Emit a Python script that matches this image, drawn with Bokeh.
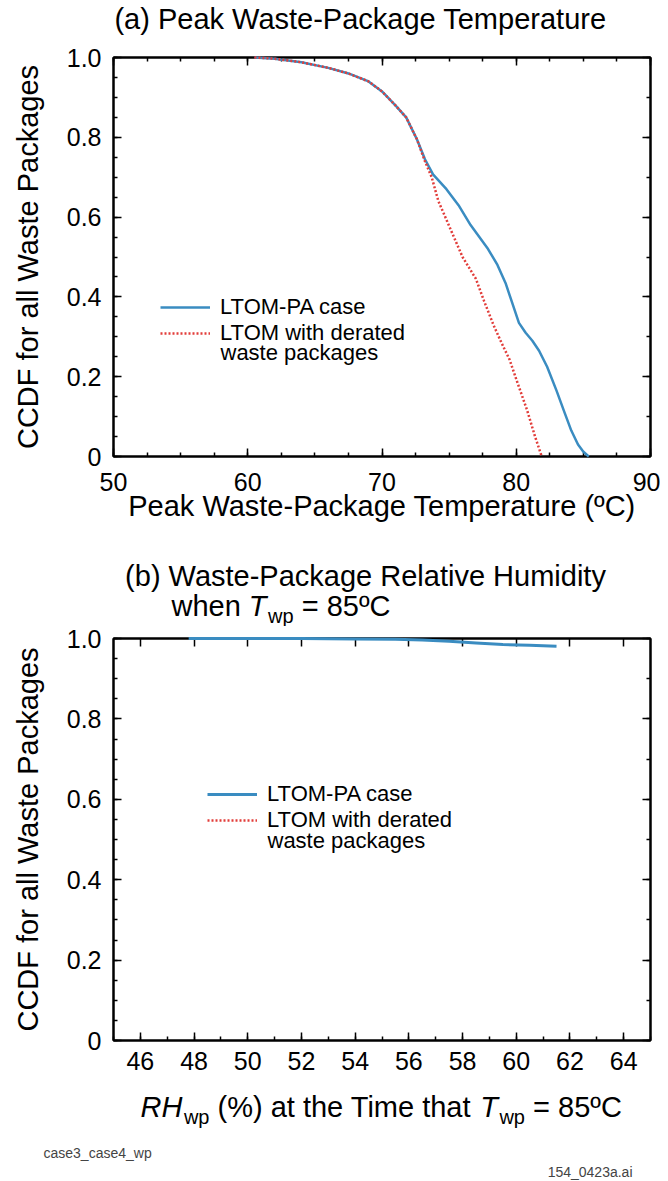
from bokeh.plotting import figure
from bokeh.models import (Range1d, LinearAxis, FixedTicker, Label, Legend, LegendItem,
                          PrintfTickFormatter, CustomLabelingPolicy)
from bokeh.layouts import column
from bokeh.embed import file_html
from bokeh.resources import INLINE

# ---------------- data ----------------
# (a) Peak waste-package temperature CCDF
temp_ltom_pa = [60.5, 62.0, 64.0, 66.0, 67.5, 69.0, 70.0, 71.0, 71.8, 72.6, 73.2, 73.8,
                74.8, 75.7, 76.6, 77.9, 78.6, 79.2, 79.7, 80.2, 80.7, 81.2, 81.7, 82.3,
                83.0, 83.6, 84.1, 84.6, 85.0, 85.4]
ccdf_ltom_pa = [1.0, 0.997, 0.988, 0.974, 0.960, 0.940, 0.915, 0.880, 0.850, 0.795, 0.745, 0.707,
                0.670, 0.630, 0.580, 0.520, 0.480, 0.435, 0.385, 0.335, 0.310, 0.290, 0.265, 0.225,
                0.165, 0.110, 0.065, 0.030, 0.012, 0.0]
temp_derated = [60.5, 62.0, 64.0, 66.0, 67.5, 69.0, 70.0, 71.0, 71.8, 72.6, 73.2, 73.7,
                74.2, 75.1, 76.0, 77.0, 77.6, 78.3, 78.9, 79.5, 80.1, 80.8, 81.4, 81.9]
ccdf_derated = [1.0, 0.997, 0.988, 0.974, 0.960, 0.940, 0.915, 0.880, 0.850, 0.795, 0.740, 0.700,
                0.640, 0.570, 0.500, 0.445, 0.390, 0.330, 0.285, 0.243, 0.184, 0.117, 0.050, 0.0]

# (b) RH at the time that Twp = 85 C (derated packages never reach 85 C -> no points)
rh_ltom_pa = [47.8, 50.0, 52.0, 54.0, 55.5, 56.5, 57.5, 58.5, 59.5, 60.5, 61.5]
ccdf_rh_ltom_pa = [1.0, 1.0, 1.0, 0.999, 0.998, 0.996, 0.993, 0.989, 0.985, 0.983, 0.981]
rh_derated = []
ccdf_rh_derated = []

x_ticks_a = [50, 60, 70, 80, 90]
x_minor_a = [50 + 2.5 * i for i in range(17)]
x_ticks_b = [46, 48, 50, 52, 54, 56, 58, 60, 62, 64]
x_minor_b = list(range(45, 66))
y_ticks = [0, 0.2, 0.4, 0.6, 0.8, 1.0]
y_minor_left = [round(0.05 * i, 2) for i in range(21)]
y_minor_right = [round(0.1 * i, 1) for i in range(11)]

series_names = ["LTOM-PA case", "LTOM with derated", "waste packages"]

# ---------------- style ----------------
FONT = "Liberation Sans"
BLUE = "#3a8cc1"
RED = "#e23d3a"
BIG = 29
TICK = 25
LEG = 22
SUB = 20
PAGE_W = 660
NAN = float("nan")

W = {' ': 278, '(': 333, ')': 333, '%': 889, '=': 584, '\u00ba': 365, '.': 278, '-': 333, '_': 556,
     'A': 667, 'C': 722, 'D': 722, 'F': 611, 'H': 722, 'L': 556, 'M': 833, 'O': 778, 'P': 667,
     'R': 722, 'T': 611, 'W': 944, 'a': 556, 'b': 556, 'c': 500, 'd': 556, 'e': 556, 'f': 278,
     'g': 556, 'h': 556, 'i': 222, 'k': 500, 'l': 222, 'm': 833, 'n': 556, 'o': 556, 'p': 556,
     'r': 333, 's': 500, 't': 278, 'u': 556, 'v': 500, 'w': 722, 'y': 500}


def text_width(s, size):
    return sum(W.get(ch, 556) for ch in s) / 1000.0 * size


class Frame:
    """maps page pixels to data coordinates of a frame"""
    def __init__(self, left, right, top, bottom, xr, yr):
        self.left, self.right, self.top, self.bottom = left, right, top, bottom
        self.xr, self.yr = xr, yr

    def data(self, px, py):
        x = self.xr[0] + (px - self.left) / (self.right - self.left) * (self.xr[1] - self.xr[0])
        y = self.yr[0] + (self.bottom - py) / (self.bottom - self.top) * (self.yr[1] - self.yr[0])
        return x, y


def add_text(p, fr, px, baseline, txt, size, style="normal", align="left", color="black"):
    # texts are centred vertically on the em box; place that centre from the wanted baseline
    x, y = fr.data(px, baseline - 0.346 * size)
    p.add_layout(Label(x=x, y=y, text=txt, text_font=FONT, text_font_size=f"{size}px",
                       text_font_style=style, text_align=align, text_baseline="middle",
                       text_color=color))


def add_rich(p, fr, px, baseline, pieces):
    """pieces of differing style laid out one after another; edge spaces are advanced by hand"""
    for txt, size, style, dy in pieces:
        core = txt.strip(" ")
        lead = len(txt) - len(txt.lstrip(" "))
        trail = len(txt) - len(txt.rstrip(" "))
        px += text_width(" " * lead, size)
        add_text(p, fr, px, baseline + dy, core, size, style)
        px += text_width(core, size) + text_width(" " * trail, size)
        if style == "italic":
            px += 1.5


def strip(page_top, height):
    """a bare text strip whose frame covers its whole canvas"""
    p = figure(width=PAGE_W, height=height, x_range=Range1d(0, PAGE_W),
               y_range=Range1d(0, height), output_backend="svg", toolbar_location=None,
               x_axis_type=None, y_axis_type=None,
               min_border_left=0, min_border_right=0, min_border_top=0, min_border_bottom=0)
    try:
        p.frame_align = False
    except AttributeError:
        pass
    p.outline_line_color = None
    p.background_fill_color = "white"
    p.border_fill_color = "white"
    fr = Frame(0, PAGE_W, page_top, page_top + height, (0, PAGE_W), (0, height))
    return p, fr


def style_axis(ax, major_in=8, minor_in=4, labels=True):
    ax.axis_line_color = "black"
    ax.axis_line_width = 2
    ax.major_tick_in = major_in
    ax.major_tick_out = 0
    ax.minor_tick_in = minor_in
    ax.minor_tick_out = 0
    ax.major_tick_line_width = 1.5
    ax.minor_tick_line_width = 1.5
    ax.major_tick_line_color = "black"
    ax.minor_tick_line_color = "black"
    ax.major_label_text_font = FONT
    ax.axis_label_text_font = FONT
    ax.axis_label_text_font_style = "normal"
    ax.axis_label_text_font_size = f"{BIG}px"
    ax.axis_label_text_color = "black"
    ax.major_label_text_color = "black"
    if labels:
        ax.major_label_text_font_size = f"{TICK}px"
    else:
        ax.major_label_text_font_size = "1px"
        ax.major_label_standoff = 0
        ax.major_label_policy = CustomLabelingPolicy(code="return new Set()")


def make_fig(xr, height, top, bottom):
    p = figure(width=PAGE_W, height=height, x_range=Range1d(*xr), y_range=Range1d(0, 1),
               output_backend="svg", toolbar_location=None,
               x_axis_type=None, y_axis_type=None,
               min_border_left=113, min_border_right=10,
               min_border_top=top, min_border_bottom=bottom)
    p.outline_line_color = "black"
    p.outline_line_width = 2
    p.background_fill_color = "white"
    p.border_fill_color = "white"
    return p


def add_axes(p, xt, xminor_bottom, xminor_top, xlabel, tick_standoff, label_standoff):
    bottom = LinearAxis(ticker=FixedTicker(ticks=xt, minor_ticks=xminor_bottom))
    style_axis(bottom)
    bottom.major_label_standoff = tick_standoff
    if xlabel:
        bottom.axis_label = xlabel
        bottom.axis_label_standoff = label_standoff
    p.add_layout(bottom, "below")
    top = LinearAxis(ticker=FixedTicker(ticks=xt, minor_ticks=xminor_top))
    style_axis(top, labels=False)
    p.add_layout(top, "above")
    left = LinearAxis(ticker=FixedTicker(ticks=y_ticks, minor_ticks=y_minor_left),
                      formatter=PrintfTickFormatter(format="%.1f"),
                      major_label_overrides={0: "0"})
    style_axis(left)
    left.major_label_standoff = 12
    left.axis_label = "CCDF for all Waste Packages"
    left.axis_label_standoff = 20
    p.add_layout(left, "left")
    right = LinearAxis(ticker=FixedTicker(ticks=y_ticks, minor_ticks=y_minor_right))
    style_axis(right, labels=False)
    p.add_layout(right, "right")


def add_legend(p, r1, r2, vx, vy):
    leg = Legend(items=[LegendItem(label=series_names[0], renderers=[r1]),
                        LegendItem(label=series_names[1], renderers=[r2])],
                 location=(vx, vy), orientation="vertical",
                 border_line_color=None, background_fill_alpha=0,
                 padding=0, margin=0, spacing=0, glyph_width=50, glyph_height=24,
                 label_height=24, label_standoff=10,
                 label_text_font=FONT, label_text_font_size=f"{LEG}px",
                 label_text_color="black")
    p.add_layout(leg)


# ---------------- title strip (a): page y 0..38 ----------------
s1, f1 = strip(0, 38)
add_text(s1, f1, 360, 29, "(a) Peak Waste-Package Temperature", BIG, align="center")

# ---------------- (a): page y 38..555 ; frame 113..650 x 57..456 ----------------
fa = Frame(113, 650, 57, 456, (50, 90), (0, 1))
pa = make_fig((50, 90), 517, 19, 99)
add_axes(pa, x_ticks_a, x_minor_a, x_minor_a, "Peak Waste-Package Temperature (\u00baC)", 16, -4)
ra1 = pa.line(temp_ltom_pa, ccdf_ltom_pa, line_color=BLUE, line_width=2.5, level="overlay")
ra2 = pa.line(temp_derated, ccdf_derated, line_color=RED, line_width=2.5, line_dash="2 2",
              level="overlay")
add_legend(pa, ra1, ra2, 160 - 113, 110)
add_text(pa, fa, 220, 359.5, series_names[2], LEG)

# ---------------- title strip (b): page y 555..626 ----------------
s2, f2 = strip(555, 71)
add_text(s2, f2, 365, 586, "(b) Waste-Package Relative Humidity", BIG, align="center")
add_rich(s2, f2, 171, 616, [("when ", BIG, "normal", 0), ("T", BIG, "italic", 0),
                            ("wp", SUB, "normal", 6), (" = 85\u00baC", BIG, "normal", 0)])

# ---------------- (b): page y 626..1088 ; frame 113..650 x 638..1040 ----------------
fb = Frame(113, 650, 638, 1040, (45, 65), (0, 1))
pb = make_fig((45, 65), 462, 12, 48)
add_axes(pb, x_ticks_b, x_minor_b, [], "", 11, 0)
rb1 = pb.line(rh_ltom_pa, ccdf_rh_ltom_pa, line_color=BLUE, line_width=3, level="overlay")
rb2 = pb.line(rh_derated, ccdf_rh_derated, line_color=RED, line_width=2.5, line_dash="2 2",
              level="overlay")
# legend swatch for the derated series (it has no points in this panel)
rb2_key = pb.line([NAN], [NAN], line_color=RED, line_width=2.5, line_dash="2 2")
add_legend(pb, rb1, rb2_key, 207 - 113, 207)
add_text(pb, fb, 267, 848, series_names[2], LEG)

# ---------------- x-label and footer strip: page y 1088..1180 ----------------
s3, f3 = strip(1088, 92)
add_rich(s3, f3, 140, 1117, [("RH", BIG, "italic", 0), ("wp", SUB, "normal", 6),
                             (" (%) at the Time that ", BIG, "normal", 0), ("T", BIG, "italic", 0),
                             ("wp", SUB, "normal", 6), (" = 85\u00baC", BIG, "normal", 0)])
add_text(s3, f3, 43, 1157, "case3_case4_wp", 14, color="#444444")
add_text(s3, f3, 632, 1176, "154_0423a.ai", 14, align="right", color="#444444")

layout = column(s1, pa, s2, pb, s3, spacing=0)
open("out.html", "w").write(file_html(layout, INLINE))
